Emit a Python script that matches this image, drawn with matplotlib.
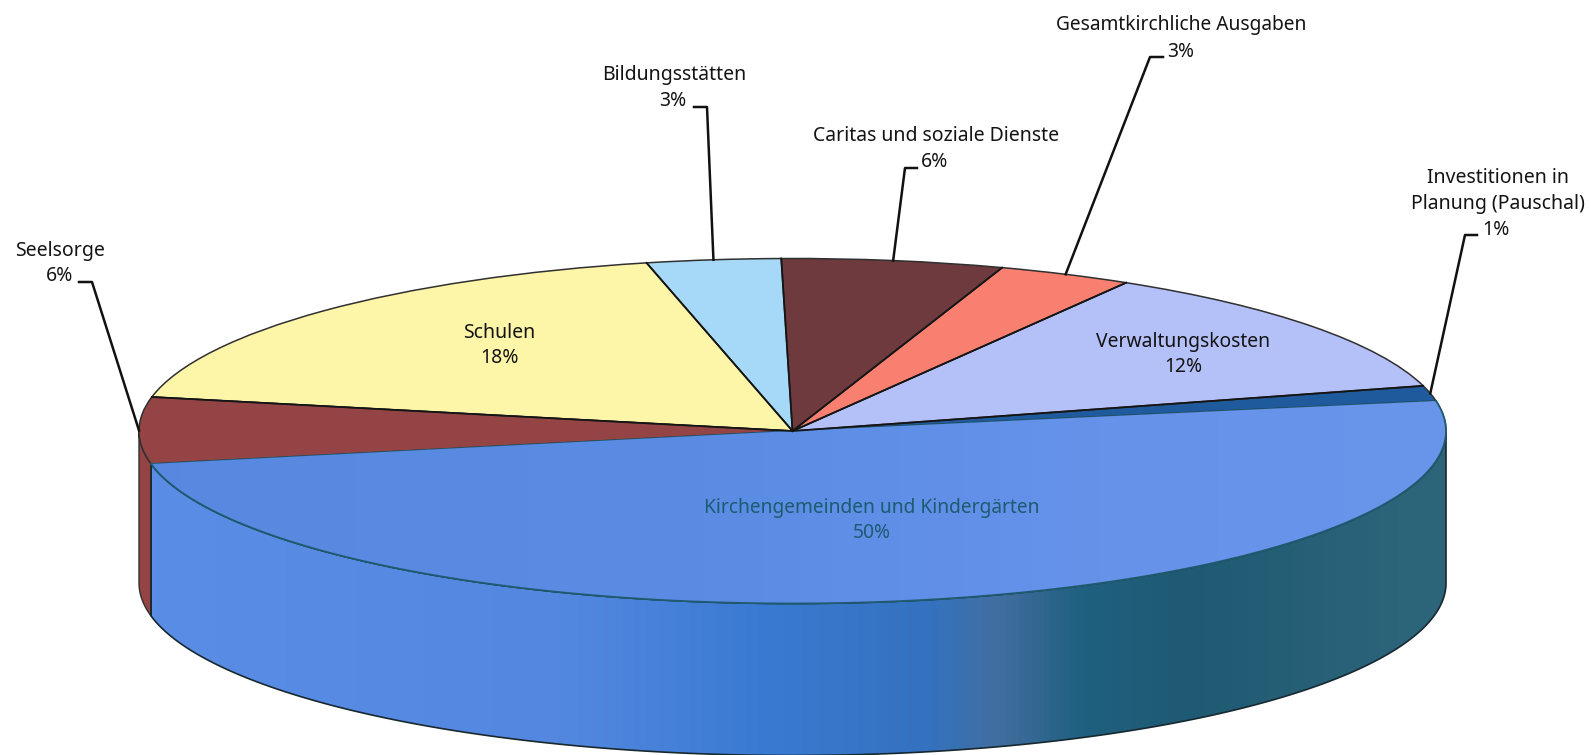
import numpy as np
import matplotlib
matplotlib.use("Agg")
import matplotlib.pyplot as plt
from matplotlib.colors import LinearSegmentedColormap
from matplotlib.patches import Polygon

# ---- data (counter-clockwise from the start angle) ----
categories = ["Investitionen in\nPlanung (Pauschal)", "Verwaltungskosten", "Gesamtkirchliche Ausgaben",
              "Caritas und soziale Dienste", "Bildungsstätten", "Schulen", "Seelsorge",
              "Kirchengemeinden und Kindergärten"]
shown_percent = [1, 12, 3, 6, 3, 18, 6, 50]
# slice sizes as actually drawn in the picture
values = [1.44, 12.25, 3.33, 5.47, 3.31, 18.25, 6.22, 49.70]
colors = ["#1F5A9C", "#B4C0F8", "#F98070", "#6E3A3E", "#A6D8F8", "#FDF5A8", "#944444", "#628FE4"]

# ---- layout (pixels of the 1591x755 picture) ----
W, H = 1591, 755
CX, CY, RX, RY, DEPTH = 792.5, 431.0, 653.5, 172.5, 152.0
START = 10.0
label_xy = [(1498, 191), (1183, 342), (1181, 25), (936, 136), (674, 75), (499, 333), (60, 251), (872, 508)]
pct_xy = [(1496, 230), (1183, 367), (1181, 52), (935, 162), (673, 101), (500, 358), (60, 276), (872, 533)]
leader_mid = {0: (1465, 235, 1477), 2: (1150, 57, 1163), 3: (905, 168, 917), 4: (707, 107, 694), 6: (92, 282, 79)}
text_color = {7: "#1B5C72"}
font_size = [14.0, 13.9, 13.8, 14.0, 14.0, 14.0, 14.0, 13.8]
FONT = "Noto Sans"

fig = plt.figure(figsize=(W / 100, H / 100), dpi=100, facecolor="white")
ax = fig.add_axes([0, 0, 1, 1])

wedges, _ = ax.pie(values, colors=colors, startangle=START, counterclock=True, radius=1, center=(0, 0),
                   normalize=True, wedgeprops=dict(edgecolor="#303030", linewidth=1.1))
ax.set_aspect("auto")
ax.set_xlim(-CX / RX, (W - CX) / RX)
ax.set_ylim(-(H - CY) / RY, CY / RY)
ax.axis("off")
for w in wedges:
    w.set_zorder(3)


def px(x, y):
    return (x - CX) / RX, (CY - y) / RY


d = DEPTH / RY
ext = [-CX / RX, (W - CX) / RX, -(H - CY) / RY, CY / RY]


def wall(a0, a1):
    t = np.radians(np.linspace(a0, a1, 300))
    xs = np.cos(t)
    ys = np.sin(t)
    return np.r_[np.c_[xs, ys], np.c_[xs, ys - d][::-1]]


total = sum(values)
edges = START + np.cumsum([0] + values) * 360 / total
ang_kirch0 = edges[7]

# blue wall with its horizontal shading
stops = [(0, (92, 142, 230)), (150, (90, 142, 230)), (560, (84, 136, 224)), (761, (58, 122, 210)), (932, (52, 114, 190)),
         (1000, (66, 110, 160)), (1080, (32, 96, 128)), (1188, (30, 90, 115)), (1400, (44, 100, 122)), (1591, (44, 100, 122))]
cm = LinearSegmentedColormap.from_list("side", [(s[0] / W, tuple(c / 255 for c in s[1])) for s in stops])
grad = np.linspace(0, 1, W)[None, :]
blue_wall = Polygon(wall(ang_kirch0, 360), closed=True, facecolor="none", edgecolor="#182830", linewidth=1.2, zorder=2.2)
ax.add_patch(blue_wall)
im = ax.imshow(grad, cmap=cm, extent=ext, aspect="auto", zorder=2, vmin=0, vmax=1)
im.set_clip_path(Polygon(wall(ang_kirch0, 360), closed=True, transform=ax.transData))

# red wall
ax.add_patch(Polygon(wall(180, ang_kirch0), closed=True, facecolor=colors[6], edgecolor="#303030", linewidth=1.0, zorder=2.1))

# top of the big slice with a light shading
top_stops = [(0, (86, 136, 224)), (700, (90, 140, 228)), (1100, (102, 146, 234)), (1591, (106, 150, 234))]
cm2 = LinearSegmentedColormap.from_list("top", [(s[0] / W, tuple(c / 255 for c in s[1])) for s in top_stops])
wedges[7].set_edgecolor("#1F5A70")
im2 = ax.imshow(grad, cmap=cm2, extent=ext, aspect="auto", zorder=3.05, vmin=0, vmax=1)
im2.set_clip_path(wedges[7])
t = np.radians(np.linspace(ang_kirch0, 360 + START, 400))
ax.plot(np.cos(t), np.sin(t), color="#1F5A70", lw=1.3, zorder=3.2)

# slice separators
for a in edges[1:7]:
    r = np.radians(a)
    ax.plot([0, np.cos(r)], [0, np.sin(r)], color="#151515", lw=1.3, zorder=3.3)

# leader lines start on the rim at the middle of their slice
for i, (mx, my, ex) in leader_mid.items():
    m = np.radians((edges[i] + edges[i + 1]) / 2)
    ex_p, ey_p = px(ex, my)
    mx_p, my_p = px(mx, my)
    ax.plot([np.cos(m), mx_p, ex_p], [np.sin(m), my_p, ey_p], color="#111111", lw=1.8, zorder=4,
            solid_joinstyle="round")

# labels
for i, name in enumerate(categories):
    col = text_color.get(i, "#141414")
    x, y = px(*label_xy[i])
    ax.text(x, y, name, ha="center", va="center", fontsize=font_size[i], family=FONT, color=col, zorder=5, linespacing=1.34)
    x, y = px(*pct_xy[i])
    ax.text(x, y, f"{shown_percent[i]}%", ha="center", va="center", fontsize=font_size[i], family=FONT, color=col, zorder=5)

fig.savefig("out.png", dpi=100, facecolor="white")
